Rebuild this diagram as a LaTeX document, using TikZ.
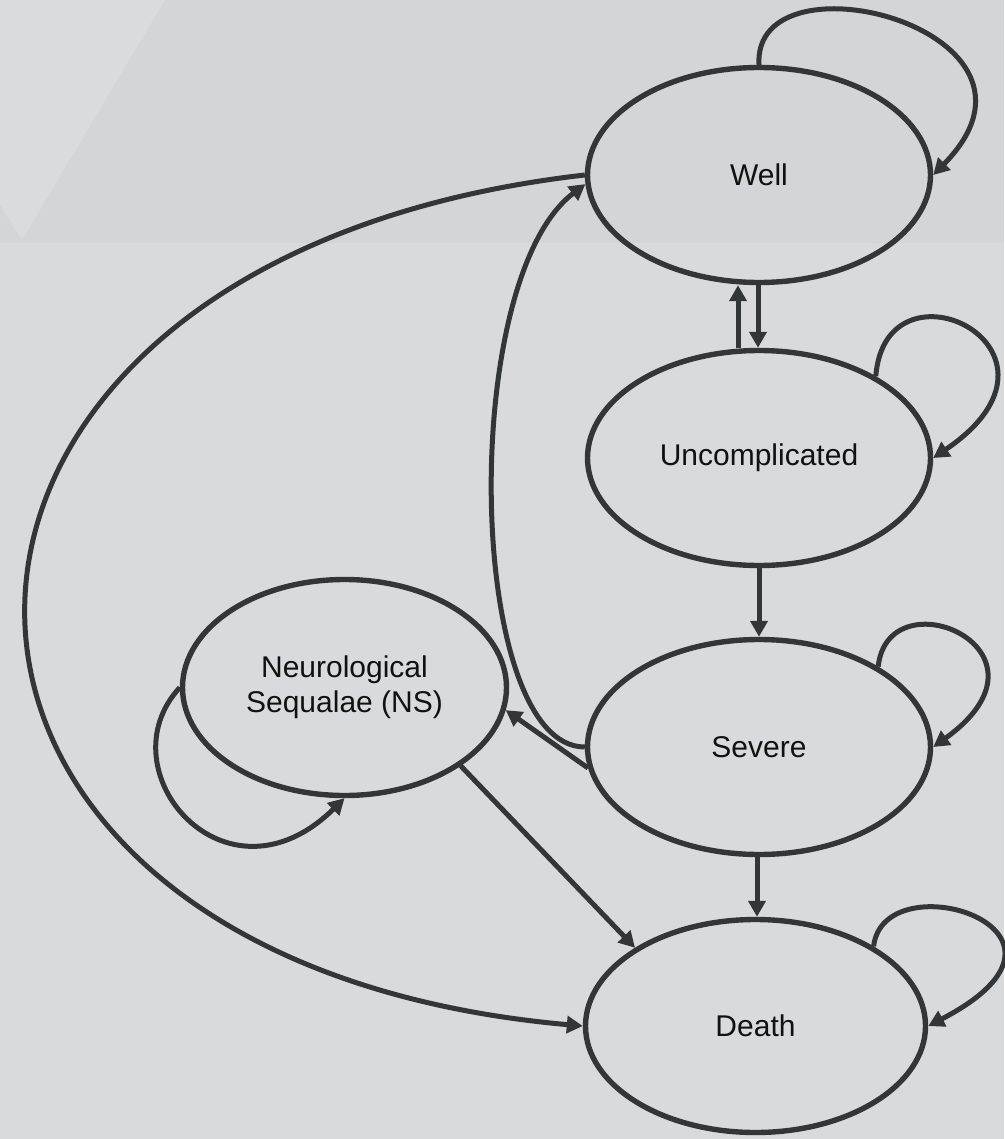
\documentclass[tikz,border=0pt]{standalone}
\usepackage{fontspec}
\setmainfont{Liberation Sans}
\usetikzlibrary{arrows.meta,shapes.geometric}
\definecolor{bgA}{RGB}{217,218,222}
\definecolor{bgB}{RGB}{212,213,217}
\definecolor{bgC}{RGB}{218,219,223}
\definecolor{ink}{RGB}{51,54,57}
\definecolor{txt}{RGB}{17,17,17}
\tikzset{
  state/.style={ellipse, draw=ink, line width=5.4pt, inner sep=0pt,
    minimum width=343pt, minimum height=215pt, text=txt,
    font=\fontsize{30}{35}\selectfont, align=center},
  conn/.style={draw=ink, line width=5pt,
    -{Triangle[length=16pt,width=17pt]}},
}
\begin{document}
\begin{tikzpicture}[x=1pt,y=-1pt]
  \useasboundingbox (0,0) rectangle (1004,1139);
  \fill[bgA] (0,0) rectangle (1004,1139);
  \fill[bgB] (0,0) rectangle (1004,243);
  \fill[bgC] (0,0) -- (165,0) -- (22,240) -- (0,205) -- cycle;

  \node[state] (well)  at (759,175)  {Well};
  \node[state] (unc)   at (759,458)  {Uncomplicated};
  \node[state] (sev)   at (759,747)  {Severe};
  \node[state, minimum width=340pt, minimum height=213pt] (death) at (755.5,1026) {Death};
  \node[state, minimum width=324pt, minimum height=216pt] (ns) at (344.5,687.5) {Neurological\\Sequalae (NS)};

  % vertical transitions
  \draw[conn] ([xshift=-1pt]well.south) -- ([xshift=-1pt]unc.north);
  \draw[conn] ([xshift=-21pt]unc.north) -- ([xshift=-21pt]well.south);
  \draw[conn] (unc.south) -- (sev.north);
  \draw[conn] ([xshift=-2pt]sev.south) -- ([xshift=-2pt]sev.south |- death.north);

  % self loops
  \draw[conn] (well.90) .. controls +(-7,-117) and +(143,-145) .. (well.0);
  \draw[conn] (unc.35) .. controls +(10,-127) and +(159,-108) .. (unc.0);
  \draw[conn] (sev.34) .. controls +(10,-93) and +(135,-97) .. (sev.0);
  \draw[conn] (death.34) .. controls +(10,-87) and +(185,-96) .. (death.0);
  \draw[conn] (ns.180) .. controls +(-77,83) and +(-119,117) .. (ns.270);

  % other transitions
  \draw[conn] (well.180) .. controls +(-743,85) and +(-743,-66) .. (death.180);
  \draw[conn] (sev.180) .. controls +(-118,0) and +(-128,97) .. (well.183);
  \draw[conn] (sev.187) -- (ns.-8);
  \draw[conn] (ns.-34) -- (death.147);
\end{tikzpicture}
\end{document}
